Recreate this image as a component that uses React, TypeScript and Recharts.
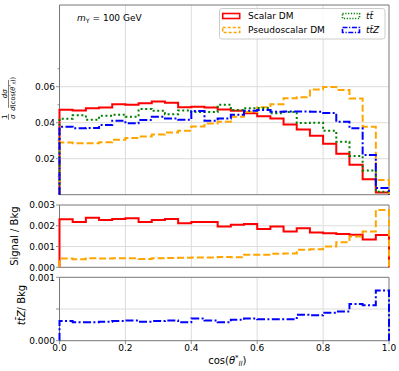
import React from "react";
import {
  ComposedChart,
  Line,
  XAxis,
  YAxis,
  CartesianGrid,
  ReferenceArea,
} from "recharts";

// bin lower edges, 25 bins of width 0.04
const BIN_LO = [
  0.0, 0.04, 0.08, 0.12, 0.16, 0.2, 0.24, 0.28, 0.32, 0.36, 0.4, 0.44, 0.48,
  0.52, 0.56, 0.6, 0.64, 0.68, 0.72, 0.76, 0.8, 0.84, 0.88, 0.92, 0.96,
];
const X_END = 1.0;
const X_TICKS = [0, 0.2, 0.4, 0.6, 0.8, 1.0];
const X_GRID = [0.2, 0.4, 0.6, 0.8];

// top panel: normalised shapes
const scalarDM = [
  0.0472, 0.0468, 0.048, 0.0485, 0.0502, 0.05, 0.0508, 0.0518, 0.0511, 0.0486,
  0.0489, 0.0484, 0.0474, 0.0466, 0.0452, 0.0436, 0.0424, 0.039, 0.0362,
  0.0328, 0.0283, 0.0228, 0.0166, 0.0086, 0.0012,
];
const pseudoDM = [
  0.029, 0.0286, 0.0286, 0.0292, 0.0306, 0.0315, 0.0324, 0.0334, 0.0345,
  0.0356, 0.0379, 0.0396, 0.0406, 0.0433, 0.046, 0.0486, 0.0503, 0.0536,
  0.0542, 0.0585, 0.0598, 0.0582, 0.0535, 0.0378, 0.0082,
];
const ttbar = [
  0.0422, 0.0441, 0.0417, 0.0438, 0.0444, 0.0433, 0.0476, 0.0466, 0.0447,
  0.0468, 0.0459, 0.0459, 0.05, 0.047, 0.048, 0.0482, 0.0452, 0.0459, 0.0398,
  0.04, 0.0355, 0.0294, 0.0215, 0.0135, 0.0017,
];
const ttZ = [
  0.0378, 0.0369, 0.0371, 0.0387, 0.0411, 0.0397, 0.0415, 0.0433, 0.0424,
  0.0416, 0.0465, 0.0411, 0.0423, 0.0444, 0.0466, 0.0471, 0.0461, 0.0462,
  0.0462, 0.0461, 0.0454, 0.0405, 0.0369, 0.022, 0.0037,
];

// middle panel: signal / background
const scalarRatio = [
  0.00231, 0.00218, 0.00239, 0.00228, 0.00233, 0.00236, 0.00218, 0.00228,
  0.00233, 0.00212, 0.00218, 0.00218, 0.00196, 0.00205, 0.00209, 0.00184,
  0.00196, 0.00172, 0.00188, 0.00167, 0.00164, 0.0016, 0.00157, 0.00134,
  0.00155,
];
const pseudoRatio = [
  0.00042, 0.00039, 0.00043, 0.00042, 0.00043, 0.00043, 0.0004, 0.00043,
  0.00045, 0.00046, 0.00047, 0.00047, 0.0005, 0.00048, 0.0006, 0.0006,
  0.00065, 0.00067, 0.00085, 0.00087, 0.001, 0.00121, 0.00148, 0.00172,
  0.00276,
];

// bottom panel: ttZ / background
const ttZRatio = [
  0.00031, 0.00029, 0.00029, 0.0003, 0.00031, 0.00032, 0.0003, 0.00031,
  0.00032, 0.00029, 0.00035, 0.00032, 0.00029, 0.00033, 0.00035, 0.00034,
  0.00034, 0.00034, 0.00041, 0.0004, 0.00044, 0.00046, 0.00058, 0.00056,
  0.00079,
];

const TOP_MAX = 0.1054;
const TOP_TICKS = [0.01, 0.02, 0.03, 0.04, 0.05, 0.06, 0.07];
const TOP_MAJOR = [0.02, 0.04, 0.06];
const MID_MAX = 0.003;
const MID_TICKS = [0, 0.001, 0.002, 0.003];
const BOT_MAX = 0.001;
const BOT_TICKS = [0, 0.0005, 0.001];
const BOT_LABELED = [0, 0.001];

const RED = "#ff0000";
const ORANGE = "#ffa500";
const GREEN = "#008000";
const BLUE = "#0000ff";
const FRAME = "#777777";
const GRID = "#dcdcdc";
const FONT = "'DejaVu Sans', sans-serif";

const DASH = "7 3";
const DOT = "2 2.6";
const DASHDOT = "8 2.4 2 2.4";

// histogram outline: rises from 0 at x=0, drops back to 0 at x=1
function stepTable(series: Record<string, number[]>) {
  const keys = Object.keys(series);
  const row = (x: number, pick: (k: string) => number) => {
    const r: Record<string, number> = { x };
    keys.forEach((k) => (r[k] = pick(k)));
    return r;
  };
  const last = BIN_LO.length - 1;
  const rows = [row(0, () => 0)];
  BIN_LO.forEach((lo, i) => rows.push(row(lo, (k) => series[k][i])));
  rows.push(row(X_END, (k) => series[k][last]));
  rows.push(row(X_END, () => 0));
  return rows;
}

const topData = stepTable({ scalarDM, pseudoDM, ttbar, ttZ });
const midData = stepTable({ scalarRatio, pseudoRatio });
const botData = stepTable({ ttZRatio });

const has = (list: number[], v: number) =>
  list.some((t) => Math.abs(t - v) < 1e-9);

function yTick(major: number[], labeled: number[], digits: number) {
  return (p: any) => {
    const v = p.payload.value;
    const isMajor = has(major, v);
    return (
      <g>
        <line
          x1={p.x - (isMajor ? 3.5 : 2)}
          x2={p.x}
          y1={p.y}
          y2={p.y}
          stroke={FRAME}
          strokeWidth={0.8}
        />
        {has(labeled, v) && (
          <text
            x={p.x - 4.5}
            y={p.y + 3.2}
            textAnchor="end"
            fontSize={9}
            fill="#000"
            fontFamily={FONT}
          >
            {v.toFixed(digits)}
          </text>
        )}
      </g>
    );
  };
}

function xTick(showLabel: boolean) {
  return (p: any) => (
    <g>
      <line
        x1={p.x}
        x2={p.x}
        y1={p.y}
        y2={p.y + 3.5}
        stroke={FRAME}
        strokeWidth={0.8}
      />
      {showLabel && (
        <text
          x={p.x}
          y={p.y + 10.6}
          textAnchor="middle"
          fontSize={9}
          fill="#000"
          fontFamily={FONT}
        >
          {p.payload.value.toFixed(1)}
        </text>
      )}
    </g>
  );
}

const TopYLabel = (props: any) => {
  const vb = props.viewBox;
  const cy = vb.y + vb.height / 2;
  return (
    <g fontFamily={FONT} fontSize={7} fill="#000">
      <g transform={`translate(8.5,${cy + 17}) rotate(-90)`}>
        <text x={0} y={-1.5} textAnchor="middle">
          1
        </text>
        <line x1={-3} x2={3} y1={0} y2={0} stroke="#000" strokeWidth={0.5} />
        <text x={0} y={6.3} textAnchor="middle" fontStyle="italic">
          σ
        </text>
      </g>
      <g transform={`translate(8.5,${cy - 6}) rotate(-90)`}>
        <text x={0} y={-1.5} textAnchor="middle" fontStyle="italic">
          dσ
        </text>
        <line x1={-14} x2={14} y1={0} y2={0} stroke="#000" strokeWidth={0.5} />
        <text x={0} y={6.3} textAnchor="middle" fontSize={6.5}>
          <tspan fontStyle="italic">d</tspan>(cos(
          <tspan fontStyle="italic">θ</tspan>
          <tspan dy={-2.5} fontSize={4.5}>*</tspan>
          <tspan dy={4} fontSize={4.5} fontStyle="italic">ll</tspan>
          <tspan dy={-1.5}>))</tspan>
        </text>
      </g>
    </g>
  );
};

const MidYLabel = (props: any) => {
  const vb = props.viewBox;
  const cy = vb.y + vb.height / 2;
  return (
    <text
      x={15}
      y={cy}
      dy="0.35em"
      transform={`rotate(-90, 15, ${cy})`}
      textAnchor="middle"
      fontSize={10}
      fontFamily={FONT}
      fill="#000"
    >
      Signal / Bkg
    </text>
  );
};

const BotYLabel = (props: any) => {
  const vb = props.viewBox;
  const cy = vb.y + vb.height / 2 - 4;
  return (
    <text
      x={21}
      y={cy}
      dy="0.35em"
      transform={`rotate(-90, 21, ${cy})`}
      textAnchor="middle"
      fontSize={10}
      fontFamily={FONT}
      fill="#000"
    >
      <tspan fontStyle="italic">tt̄Z</tspan>/ Bkg
    </text>
  );
};

const XLabel = (props: any) => {
  const vb = props.viewBox;
  const cx = vb.x + vb.width / 2 + 3;
  return (
    <text
      x={cx}
      y={vb.y + 23.5}
      textAnchor="middle"
      fontSize={10}
      fontFamily={FONT}
      fill="#000"
    >
      cos(<tspan fontStyle="italic">θ</tspan>
      <tspan dy={-4} fontSize={7}>*</tspan>
      <tspan dy={6} fontSize={7} fontStyle="italic">ll</tspan>
      <tspan dy={-2}>)</tspan>
    </text>
  );
};

const lineProps = {
  type: "stepAfter" as const,
  dot: false,
  activeDot: false,
  strokeWidth: 2,
  isAnimationActive: false,
};

function Frame({ ymax }: { ymax: number }) {
  return (
    <ReferenceArea
      x1={0}
      x2={X_END}
      y1={0}
      y2={ymax}
      fill="none"
      stroke={FRAME}
      strokeWidth={1}
      ifOverflow="visible"
    />
  );
}

function LegendHandle({ x, y, color, dash }: any) {
  return (
    <rect
      x={x}
      y={y - 2.5}
      width={17}
      height={5}
      fill="none"
      stroke={color}
      strokeWidth={1.6}
      strokeDasharray={dash}
    />
  );
}

export default function App() {
  return (
    <div
      style={{
        position: "absolute",
        left: 0,
        top: 0,
        width: 399,
        height: 371,
        background: "#fff",
        fontFamily: FONT,
      }}
    >
      <div style={{ position: "absolute", left: 0, top: 0 }}>
        <ComposedChart
          width={399}
          height={200}
          data={topData}
          margin={{ top: 5, right: 10, bottom: 5.3, left: 0 }}
        >
          <CartesianGrid
            stroke={GRID}
            verticalValues={X_GRID}
            horizontalValues={TOP_MAJOR}
          />
          <XAxis
            dataKey="x"
            type="number"
            domain={[0, X_END]}
            ticks={X_TICKS}
            interval={0}
            height={0}
            axisLine={false}
            tickLine={false}
            tickSize={0}
            tickMargin={0}
            tick={xTick(false)}
          />
          <YAxis
            type="number"
            domain={[0, TOP_MAX]}
            ticks={TOP_TICKS}
            interval={0}
            width={59.5}
            axisLine={false}
            tickLine={false}
            tickSize={0}
            tickMargin={0}
            tick={yTick(TOP_MAJOR, TOP_MAJOR, 2)}
            label={<TopYLabel />}
          />
          {Frame({ ymax: TOP_MAX })}
          <Line dataKey="scalarDM" stroke={RED} {...lineProps} />
          <Line dataKey="pseudoDM" stroke={ORANGE} strokeDasharray={DASH} {...lineProps} />
          <Line dataKey="ttbar" stroke={GREEN} strokeDasharray={DOT} {...lineProps} />
          <Line dataKey="ttZ" stroke={BLUE} strokeDasharray={DASHDOT} {...lineProps} />
        </ComposedChart>
      </div>

      <div style={{ position: "absolute", left: 0, top: 200 }}>
        <ComposedChart
          width={399}
          height={72}
          data={midData}
          margin={{ top: 5, right: 10, bottom: 4.7, left: 0 }}
        >
          <CartesianGrid
            stroke={GRID}
            verticalValues={X_GRID}
            horizontalValues={[0.001, 0.002]}
          />
          <XAxis
            dataKey="x"
            type="number"
            domain={[0, X_END]}
            ticks={X_TICKS}
            interval={0}
            height={0}
            axisLine={false}
            tickLine={false}
            tickSize={0}
            tickMargin={0}
            tick={xTick(false)}
          />
          <YAxis
            type="number"
            domain={[0, MID_MAX]}
            ticks={MID_TICKS}
            interval={0}
            width={59.5}
            axisLine={false}
            tickLine={false}
            tickSize={0}
            tickMargin={0}
            tick={yTick(MID_TICKS, MID_TICKS, 3)}
            label={<MidYLabel />}
          />
          {Frame({ ymax: MID_MAX })}
          <Line dataKey="scalarRatio" stroke={RED} {...lineProps} />
          <Line dataKey="pseudoRatio" stroke={ORANGE} strokeDasharray={DASH} {...lineProps} />
        </ComposedChart>
      </div>

      <div style={{ position: "absolute", left: 0, top: 268 }}>
        <ComposedChart
          width={399}
          height={103}
          data={botData}
          margin={{ top: 9.3, right: 10, bottom: 0.3, left: 0 }}
        >
          <CartesianGrid
            stroke={GRID}
            verticalValues={X_GRID}
            horizontalValues={[0.0005]}
          />
          <XAxis
            dataKey="x"
            type="number"
            domain={[0, X_END]}
            ticks={X_TICKS}
            interval={0}
            height={30}
            axisLine={false}
            tickLine={false}
            tickSize={0}
            tickMargin={0}
            tick={xTick(true)}
            label={<XLabel />}
          />
          <YAxis
            type="number"
            domain={[0, BOT_MAX]}
            ticks={BOT_TICKS}
            interval={0}
            width={59.5}
            axisLine={false}
            tickLine={false}
            tickSize={0}
            tickMargin={0}
            tick={yTick(BOT_TICKS, BOT_LABELED, 3)}
            label={<BotYLabel />}
          />
          {Frame({ ymax: BOT_MAX })}
          <Line dataKey="ttZRatio" stroke={BLUE} strokeDasharray={DASHDOT} {...lineProps} />
        </ComposedChart>
      </div>

      <svg
        width={399}
        height={371}
        style={{ position: "absolute", left: 0, top: 0, pointerEvents: "none" }}
        fontFamily={FONT}
      >
        <text x={77} y={20.5} fontSize={9} fill="#000">
          <tspan fontStyle="italic">m</tspan>
          <tspan dy={2} fontSize={6.3}>Υ</tspan>
          <tspan dy={-2}> = 100 GeV</tspan>
        </text>
        <rect
          x={219.5}
          y={8.5}
          width={165.5}
          height={30.5}
          rx={2.5}
          fill="#fff"
          fillOpacity={0.8}
          stroke="#cccccc"
          strokeWidth={1}
        />
        <LegendHandle x={222.7} y={16} color={RED} />
        <LegendHandle x={222.7} y={30} color={ORANGE} dash="3 2" />
        <LegendHandle x={342.5} y={16} color={GREEN} dash="1.2 1.6" />
        <LegendHandle x={342.5} y={30} color={BLUE} dash="5 1.6 1.2 1.6" />
        <g fontSize={9} fill="#000">
          <text x={248} y={19.2}>Scalar DM</text>
          <text x={248} y={33.2}>Pseudoscalar DM</text>
          <text x={366} y={19.2} fontStyle="italic">tt̄</text>
          <text x={366} y={33.2} fontStyle="italic">tt̄Z</text>
        </g>
      </svg>
    </div>
  );
}
